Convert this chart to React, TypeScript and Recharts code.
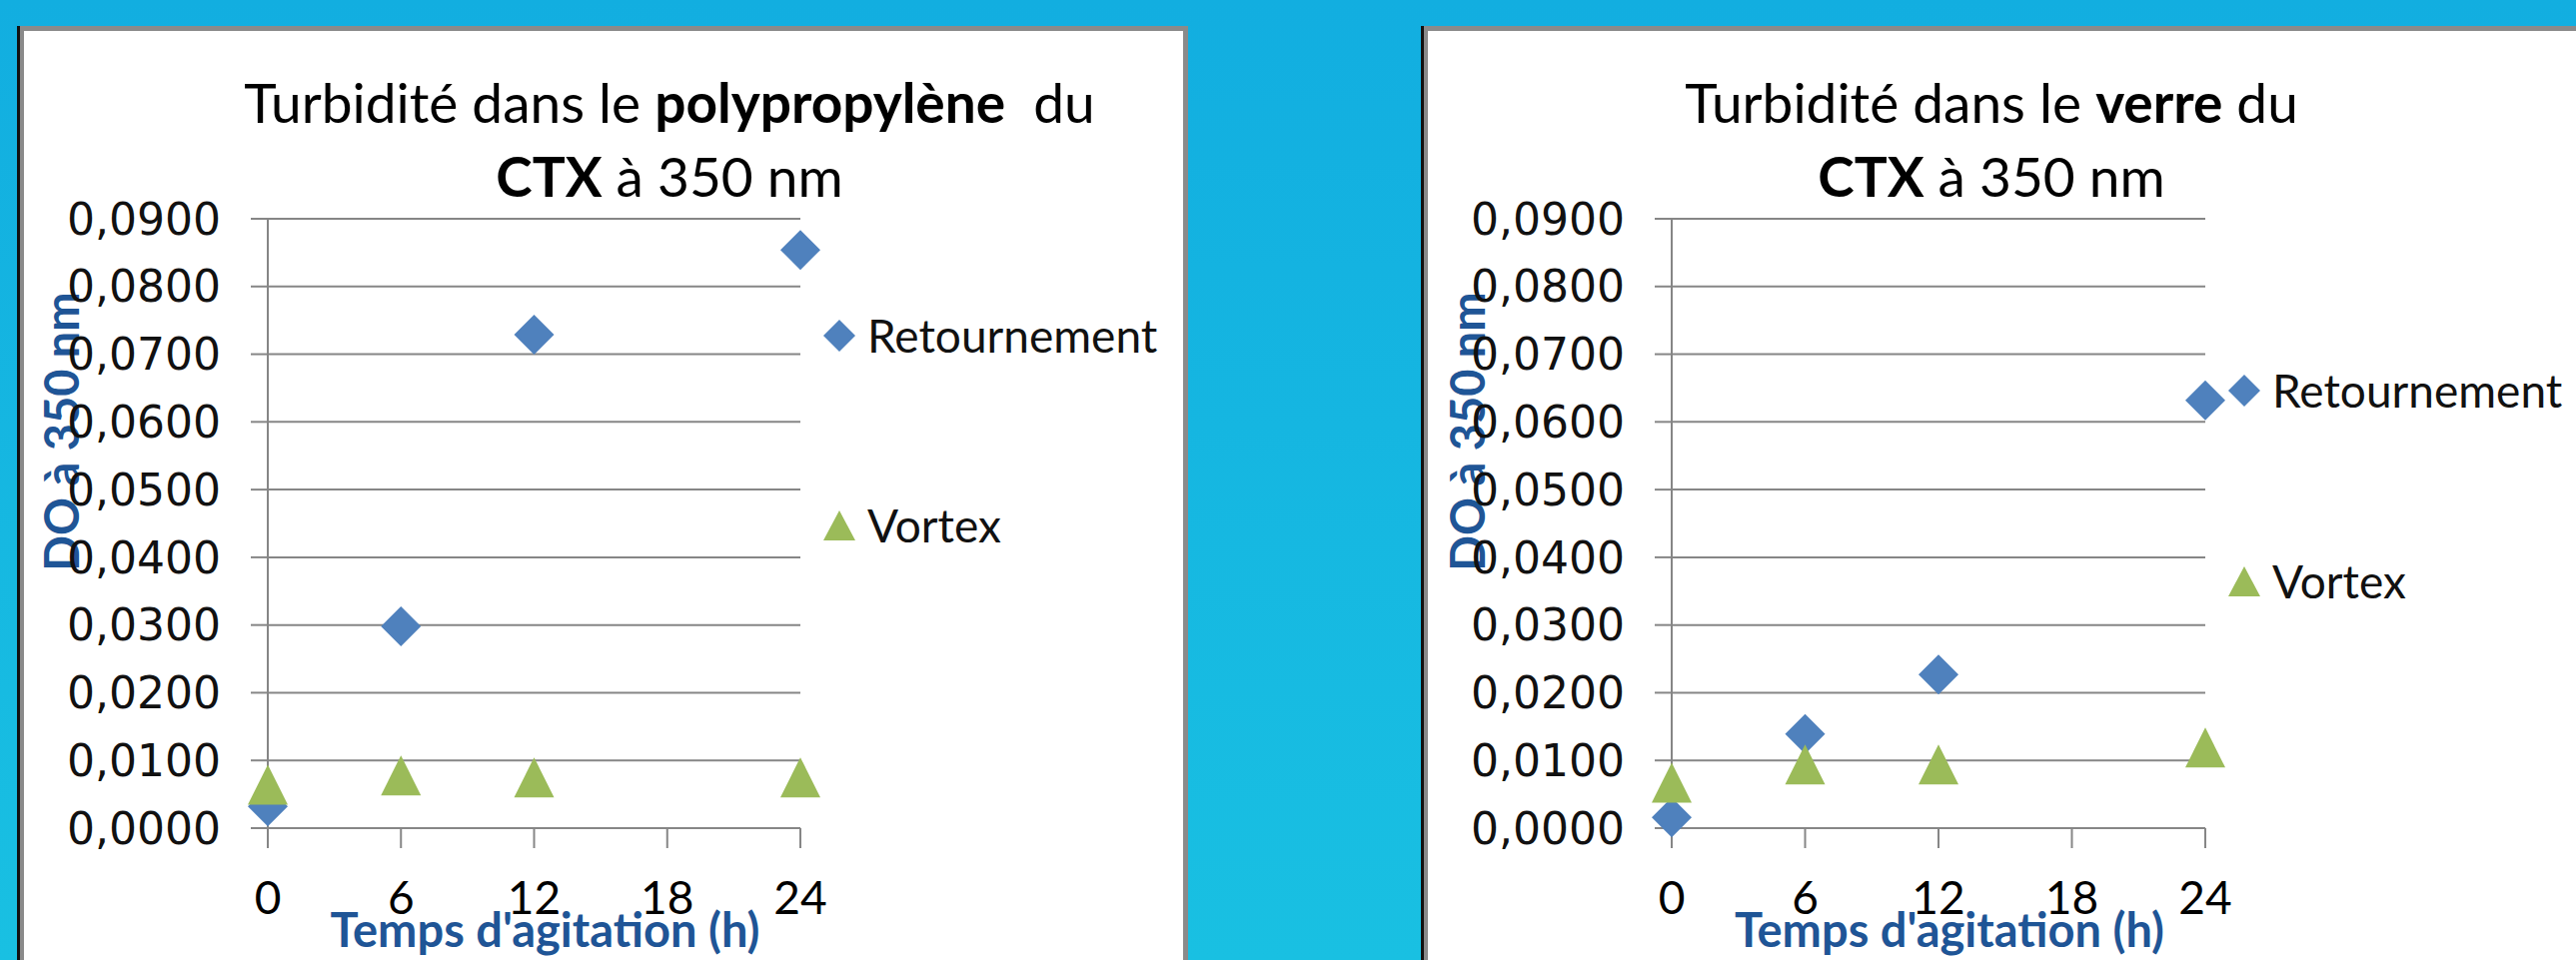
import React from "react";
import {
  CartesianGrid,
  Label,
  Legend,
  Scatter,
  ScatterChart,
  XAxis,
  YAxis,
} from "recharts";

// hours of agitation
const hours = [0, 6, 12, 24];

// polypropylene
const ppRetournement = [0.0032, 0.0298, 0.0729, 0.0854];
const ppVortex = [0.0064, 0.0078, 0.0075, 0.0075];

// glass
const verreRetournement = [0.0016, 0.0139, 0.0227, 0.0632];
const verreVortex = [0.0067, 0.0094, 0.0094, 0.0119];

const xTicks = [0, 6, 12, 18, 24];
const yTicks = [0, 0.01, 0.02, 0.03, 0.04, 0.05, 0.06, 0.07, 0.08, 0.09];

const seriesNames = ["Retournement", "Vortex"];
const yTitle = "DO à 350 nm";
const xTitle = "Temps d'agitation (h)";

const BLUE = "#4F81BD";
const GREEN = "#9BBB59";
const AXIS = "#868686";
const TITLE_BLUE = "#1F5596";
const SANS = "Lato, 'Open Sans', sans-serif";

const toPoints = (ys: number[]) => hours.map((h, i) => ({ x: h, y: ys[i] }));
const fmtY = (v: number) => v.toFixed(4).replace(".", ",");

function DiamondShape(props: any) {
  const { cx, cy } = props;
  if (cx == null || cy == null) return null;
  const r = 20;
  return (
    <path
      d={`M${cx},${cy - r}L${cx + r},${cy}L${cx},${cy + r}L${cx - r},${cy}Z`}
      fill={BLUE}
    />
  );
}

function TriangleShape(props: any) {
  const { cx, cy } = props;
  if (cx == null || cy == null) return null;
  const r = 20;
  return (
    <path
      d={`M${cx},${cy - r}L${cx + r},${cy + r}L${cx - r},${cy + r}Z`}
      fill={GREEN}
    />
  );
}

function makeLegend(rowGap: number) {
  return function LegendContent(props: any) {
    const items = props.payload ?? [];
    return (
      <div style={{ position: "relative" }}>
        {items.map((item: any, i: number) => (
          <div
            key={item.value}
            style={{
              position: "absolute",
              left: 0,
              top: i * rowGap,
              height: 40,
              display: "flex",
              alignItems: "center",
              whiteSpace: "nowrap",
            }}
          >
            <svg width={32} height={32}>
              {item.type === "triangle" ? (
                <path d="M16,1L32,31L0,31Z" fill={GREEN} />
              ) : (
                <path d="M16,0L32,16L16,32L0,16Z" fill={BLUE} />
              )}
            </svg>
            <span
              style={{
                marginLeft: 12,
                fontSize: 46,
                fontFamily: SANS,
                color: "#111",
                lineHeight: "40px",
              }}
            >
              {item.value}
            </span>
          </div>
        ))}
      </div>
    );
  };
}

type ChartProps = {
  left: number;
  width: number;
  plotLeft: number;
  plotRight: number;
  retournement: number[];
  vortex: number[];
  legendLeft: number;
  legendTop: number;
  legendGap: number;
  yTitleX: number;
};

function TurbidityChart({
  left,
  width,
  plotLeft,
  plotRight,
  retournement,
  vortex,
  legendLeft,
  legendTop,
  legendGap,
  yTitleX,
}: ChartProps) {
  const height = 961;
  const plotTop = 219;
  const plotBottom = 829;
  return (
    <div style={{ position: "absolute", left, top: 0 }}>
      <ScatterChart
        width={width}
        height={height}
        margin={{ top: plotTop, right: width - plotRight, left: 0, bottom: 0 }}
      >
        <CartesianGrid vertical={false} stroke={AXIS} strokeWidth={2} />
        <XAxis
          type="number"
          dataKey="x"
          domain={[0, 24]}
          ticks={xTicks}
          interval={0}
          height={height - plotBottom}
          tickSize={20}
          tickMargin={33}
          stroke={AXIS}
          strokeWidth={2}
          tick={{ fontSize: 46, fill: "#000", fontFamily: SANS }}
        >
          <Label
            content={(p: any) => {
              const vb = p.viewBox ?? { x: plotLeft, y: plotBottom, width: plotRight - plotLeft };
              return (
                <text
                  x={vb.x + vb.width / 2 + 11}
                  y={vb.y + 119}
                  textAnchor="middle"
                  fill={TITLE_BLUE}
                  fontSize={47}
                  fontWeight="bold"
                  fontFamily={SANS}
                >
                  {xTitle}
                </text>
              );
            }}
          />
        </XAxis>
        <YAxis
          type="number"
          dataKey="y"
          domain={[0, 0.09]}
          ticks={yTicks}
          interval={0}
          width={plotLeft}
          tickSize={17}
          tickMargin={30}
          stroke={AXIS}
          strokeWidth={2}
          tickFormatter={fmtY}
          tick={{ fontSize: 44, fill: "#111", fontFamily: "'DejaVu Sans', sans-serif" }}
        >
          <Label
            content={(p: any) => {
              const vb = p.viewBox ?? { x: 0, y: plotTop, height: plotBottom - plotTop };
              const cx = vb.x + yTitleX;
              const cy = vb.y + vb.height / 2 - 92;
              return (
                <text
                  x={cx}
                  y={cy}
                  transform={`rotate(-90, ${cx}, ${cy})`}
                  textAnchor="middle"
                  dominantBaseline="central"
                  fill={TITLE_BLUE}
                  fontSize={47}
                  fontWeight="bold"
                  fontFamily={SANS}
                >
                  {yTitle}
                </text>
              );
            }}
          />
        </YAxis>
        <Legend
          layout="vertical"
          align="center"
          verticalAlign="middle"
          wrapperStyle={{ left: legendLeft, top: legendTop, width: 360 }}
          content={makeLegend(legendGap)}
        />
        <Scatter
          name={seriesNames[0]}
          data={toPoints(retournement)}
          fill={BLUE}
          legendType="diamond"
          shape={DiamondShape}
          isAnimationActive={false}
        />
        <Scatter
          name={seriesNames[1]}
          data={toPoints(vortex)}
          fill={GREEN}
          legendType="triangle"
          shape={TriangleShape}
          isAnimationActive={false}
        />
      </ScatterChart>
    </div>
  );
}

function Panel({ left, width }: { left: number; width: number }) {
  return (
    <div
      style={{
        position: "absolute",
        left,
        top: 26,
        width,
        height: 980,
        boxSizing: "border-box",
        background: "#fff",
        borderTop: "5px solid #8a8a8a",
        borderLeft: "4px solid #8a8a8a",
        borderRight: "5px solid #8a8a8a",
        boxShadow: "-3px 0 0 #111",
      }}
    />
  );
}

function Title({ cx, bold1, before, after1 }: { cx: number; bold1: string; before: string; after1: string }) {
  return (
    <text textAnchor="middle" fontFamily={SANS} fontSize={55} fill="#000">
      <tspan x={cx} y={123}>
        {before}
        <tspan fontWeight="bold">{bold1}</tspan>
        {after1}
      </tspan>
      <tspan x={cx} y={197}>
        <tspan fontWeight="bold">CTX</tspan> à 350 nm
      </tspan>
    </text>
  );
}

export default function App() {
  return (
    <div
      style={{
        position: "fixed",
        left: 0,
        top: 0,
        width: 2578,
        height: 961,
        overflow: "hidden",
        background: "linear-gradient(180deg, #12AEE0 0%, #19C0E2 100%)",
        fontFamily: SANS,
      }}
    >
      <Panel left={20} width={1169} />
      <Panel left={1425} width={1200} />
      <svg
        width={2578}
        height={961}
        style={{ position: "absolute", left: 0, top: 0 }}
      >
        <Title cx={670} before="Turbidité dans le " bold1="polypropylène" after1={"\u00a0 du"} />
        <Title cx={1993} before="Turbidité dans le " bold1="verre" after1=" du" />
      </svg>
      <TurbidityChart
        left={0}
        width={1180}
        plotLeft={268}
        plotRight={801}
        retournement={ppRetournement}
        vortex={ppVortex}
        legendLeft={824}
        legendTop={316}
        legendGap={190}
        yTitleX={61}
      />
      <TurbidityChart
        left={1400}
        width={1178}
        plotLeft={273}
        plotRight={807}
        retournement={verreRetournement}
        vortex={verreVortex}
        legendLeft={830}
        legendTop={371}
        legendGap={191}
        yTitleX={68}
      />
    </div>
  );
}
